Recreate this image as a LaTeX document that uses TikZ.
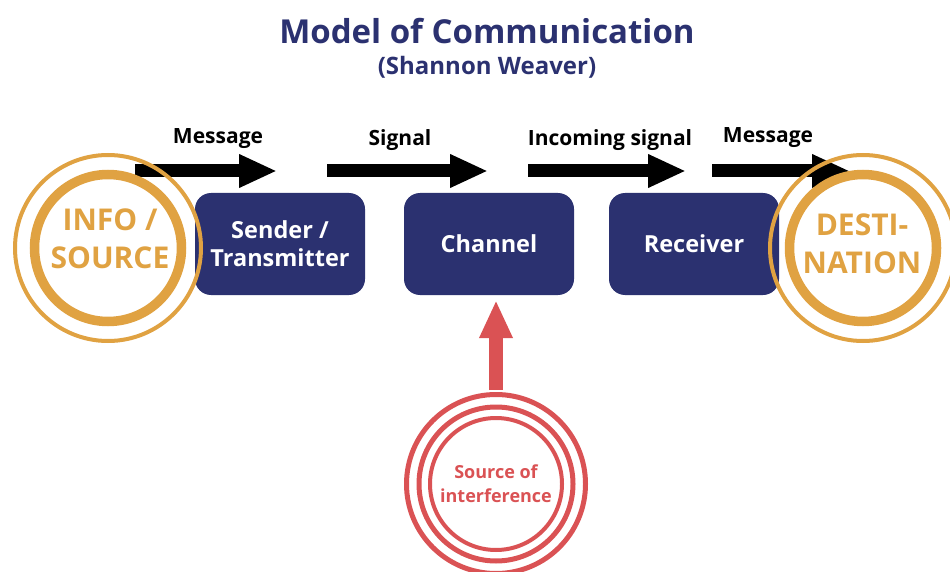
\documentclass[tikz,border=0pt]{standalone}
\usepackage{fontspec}
\setmainfont{Open Sans}
\usetikzlibrary{arrows.meta}

\definecolor{navy}{RGB}{43,49,112}
\definecolor{gold}{RGB}{224,162,66}
\definecolor{coral}{RGB}{218,82,84}

\tikzset{
    box/.style={rounded corners=16pt, fill=navy, text=white, minimum width=170pt, minimum height=102pt, align=center, font=\bfseries\fontsize{23.5}{28}\selectfont},
    ends/.style={circle, minimum size=186pt, text=gold, align=center, font=\bfseries\fontsize{30}{38}\selectfont},
    flow/.style={line width=13pt, -{Triangle[length=38pt,width=31pt]}},
    lbl/.style={font=\bfseries\fontsize{21}{24}\selectfont},
    thickring/.style={draw=gold, line width=9.5pt},
    thinring/.style={draw=gold, line width=4pt},
    redring/.style={draw=coral, line width=5pt}
}

\begin{document}
\begin{tikzpicture}[x=1pt, y=-1pt]
        \useasboundingbox (0,0) rectangle (950,572);

        % Title
        \node[text=navy, font=\bfseries\fontsize{33}{38}\selectfont] (title) at (487,31) {Model of Communication};
        \node[text=navy, font=\bfseries\fontsize{24}{28}\selectfont] (subtitle) at (487,67) {(Shannon Weaver)};

        % Arrows along the top
        \coordinate (a1) at (135,171);
        \coordinate (b1) at (277,171);
        \coordinate (a2) at (327,171);
        \coordinate (b2) at (488,171);
        \coordinate (a3) at (528,171);
        \coordinate (b3) at (686,171);
        \coordinate (a4) at (712,171);
        \coordinate (b4) at (850,171);

        \draw[flow] (a1) -- (b1);
        \draw[flow] (a2) -- (b2);
        \draw[flow] (a3) -- (b3);
        \draw[flow] (a4) -- (b4);

        \node[lbl] (m1) at (218,139) {Message};
        \node[lbl] (m2) at (400,140) {Signal};
        \node[lbl] (m3) at (610,140) {Incoming signal};
        \node[lbl] (m4) at (768,138) {Message};

        % Boxes
        \node[box] (sender) at (280,244) {Sender /\\Transmitter};
        \node[box] (channel) at (489,244) {Channel};
        \node[box] (receiver) at (694,244) {Receiver};

        % Source and destination
        \node[ends] (source) at (108,248) {};
        \draw[thickring] (source.center) circle (73.5);
        \draw[thinring] (source.center) circle (93);
        \node[text=gold, align=center, font=\bfseries\fontsize{30}{38}\selectfont] (srctext) at (110,239) {INFO /\\SOURCE};

        \node[ends] (dest) at (863,248) {};
        \draw[thickring] (dest.center) circle (73.5);
        \draw[thinring] (dest.center) circle (93);
        \node[text=gold, align=center, font=\bfseries\fontsize{30}{38}\selectfont] (desttext) at (862,244) {DESTI-\\NATION};

        % Interference
        \node[circle, minimum size=184pt, text=coral, align=center, font=\bfseries\fontsize{18}{24}\selectfont] (noise) at (496,484) {Source of\\interference};
        \draw[redring] (noise.center) circle (89.5);
        \draw[redring] (noise.center) circle (77);
        \draw[draw=coral, line width=4pt] (noise.center) circle (66);
        \draw[draw=coral, line width=14pt, -{Triangle[length=38pt,width=31pt]}] ([yshift=2pt]noise.north) -- ([yshift=-5pt]noise.north |- channel.south);

    \end{tikzpicture}
\end{document}
